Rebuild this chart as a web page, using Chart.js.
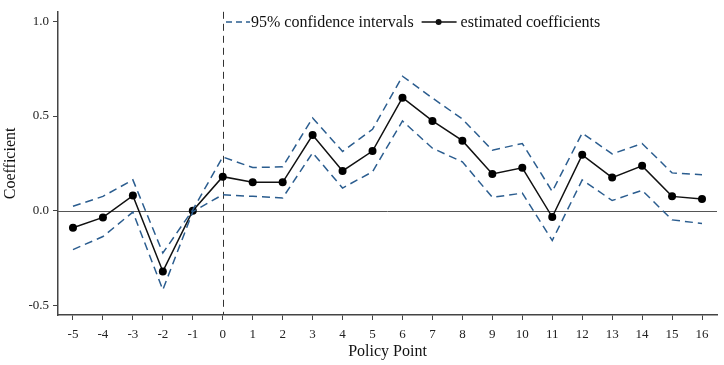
<!DOCTYPE html>
<html>
<head>
<meta charset="utf-8">
<script src="https://cdn.jsdelivr.net/npm/chart.js@4.4.1/dist/chart.umd.min.js"></script>
<style>
html,body{margin:0;padding:0;background:#fff;}
canvas{display:block;}
</style>
</head>
<body>
<canvas id="c" width="724" height="365"></canvas>
<script>
const periods = [-5,-4,-3,-2,-1,0,1,2,3,4,5,6,7,8,9,10,11,12,13,14,15,16];
const coef  = [-0.09,-0.035,0.08,-0.32,0,0.18,0.15,0.15,0.40,0.21,0.315,0.597,0.474,0.37,0.194,0.227,-0.033,0.295,0.175,0.237,0.076,0.062];
const upper = [0.024,0.076,0.163,-0.223,0.005,0.284,0.228,0.232,0.49,0.313,0.43,0.71,0.595,0.484,0.32,0.355,0.102,0.41,0.30,0.355,0.20,0.19];
const lower = [-0.205,-0.136,-0.007,-0.417,-0.005,0.085,0.076,0.068,0.306,0.12,0.206,0.474,0.33,0.258,0.071,0.093,-0.157,0.163,0.054,0.108,-0.048,-0.067];
const yTicks = [-0.5, 0.0, 0.5, 1.0];
const xTicks = periods;
const legendLabels = ['95% confidence intervals', 'estimated coefficients'];
const xTitle = 'Policy Point';
const yTitle = 'Coefficient';

const BLUE = '#2b5d8f';
const AXIS = '#444';
const SERIF = '"Liberation Serif", "Times New Roman", serif';

const pts = arr => periods.map((p, i) => ({x: p, y: arr[i]}));

const refLines = {
  id: 'refLines',
  beforeDatasetsDraw(chart) {
    const {ctx, chartArea: a, scales: {x, y}} = chart;
    ctx.save();
    ctx.strokeStyle = '#555';
    ctx.lineWidth = 1;
    const y0 = Math.round(y.getPixelForValue(0)) + 0.5;
    ctx.beginPath(); ctx.moveTo(a.left, y0); ctx.lineTo(a.right, y0); ctx.stroke();
    const x0 = Math.round(x.getPixelForValue(0)) + 0.5;
    ctx.setLineDash([7, 5]);
    ctx.strokeStyle = '#333';
    ctx.beginPath(); ctx.moveTo(x0, a.top); ctx.lineTo(x0, a.bottom); ctx.stroke();
    ctx.restore();
  }
};

const customLegend = {
  id: 'customLegend',
  afterDraw(chart) {
    const {ctx} = chart;
    ctx.save();
    const cy = 22;
    ctx.font = '16px ' + SERIF;
    ctx.textBaseline = 'middle';
    const w1 = ctx.measureText(legendLabels[0]).width;
    const w2 = ctx.measureText(legendLabels[1]).width;
    let x = 225;
    const total = 25 + w1 + 8 + 36 + 4 + w2 + 4;
    ctx.fillStyle = '#fff';
    ctx.fillRect(x, cy - 11, total, 22);
    ctx.strokeStyle = BLUE; ctx.lineWidth = 1.5; ctx.setLineDash([6, 4]);
    ctx.beginPath(); ctx.moveTo(x + 1, cy); ctx.lineTo(x + 25, cy); ctx.stroke();
    ctx.setLineDash([]);
    x += 26;
    ctx.fillStyle = '#111'; ctx.textAlign = 'left';
    ctx.fillText(legendLabels[0], x, cy + 1);
    x += w1 + 8;
    ctx.strokeStyle = '#111'; ctx.lineWidth = 1.5;
    ctx.beginPath(); ctx.moveTo(x, cy); ctx.lineTo(x + 35, cy); ctx.stroke();
    ctx.beginPath(); ctx.arc(x + 17, cy, 3, 0, Math.PI * 2); ctx.fillStyle = '#111'; ctx.fill();
    x += 39;
    ctx.fillText(legendLabels[1], x, cy + 1);
    ctx.restore();
  }
};

new Chart(document.getElementById('c'), {
  type: 'line',
  data: {
    datasets: [
      {label: 'upper', data: pts(upper), borderColor: BLUE, borderWidth: 1.5, borderDash: [8, 5], pointRadius: 0, fill: false, tension: 0},
      {label: 'lower', data: pts(lower), borderColor: BLUE, borderWidth: 1.5, borderDash: [8, 5], pointRadius: 0, fill: false, tension: 0},
      {label: legendLabels[1], data: pts(coef), borderColor: '#111', backgroundColor: '#111', borderWidth: 1.5, pointRadius: 4, pointBackgroundColor: '#000', pointBorderWidth: 0, fill: false, tension: 0}
    ]
  },
  options: {
    responsive: false,
    animation: false,
    devicePixelRatio: 1,
    layout: {padding: {top: 7, right: 7, bottom: 0, left: 0}},
    plugins: {legend: {display: false}, tooltip: {enabled: false}},
    scales: {
      x: {
        type: 'linear', min: -5.5, max: 16.5,
        afterFit(s) { s.height = 50; },
        afterBuildTicks(s) { s.ticks = xTicks.map(v => ({value: v})); },
        grid: {drawOnChartArea: false, drawTicks: true, tickLength: 5, color: AXIS},
        border: {display: true, color: AXIS, width: 1.5},
        ticks: {autoSkip: false, maxRotation: 0, padding: 7, color: '#222', font: {family: SERIF, size: 13}, callback: v => String(v)},
        title: {display: true, text: xTitle, color: '#111', font: {family: SERIF, size: 16}, padding: {top: 0, bottom: 4}}
      },
      y: {
        type: 'linear', min: -0.55, max: 1.05,
        afterFit(s) { s.width = 58; },
        afterBuildTicks(s) { s.ticks = yTicks.map(v => ({value: v})); },
        grid: {drawOnChartArea: false, drawTicks: true, tickLength: 5, color: AXIS},
        border: {display: true, color: AXIS, width: 1.5},
        ticks: {padding: 4, color: '#222', font: {family: SERIF, size: 13}, callback: v => v.toFixed(1)},
        title: {display: true, text: yTitle, color: '#111', font: {family: SERIF, size: 16}, padding: {top: 1, bottom: 0}}
      }
    }
  },
  plugins: [refLines, customLegend]
});
</script>
</body>
</html>
